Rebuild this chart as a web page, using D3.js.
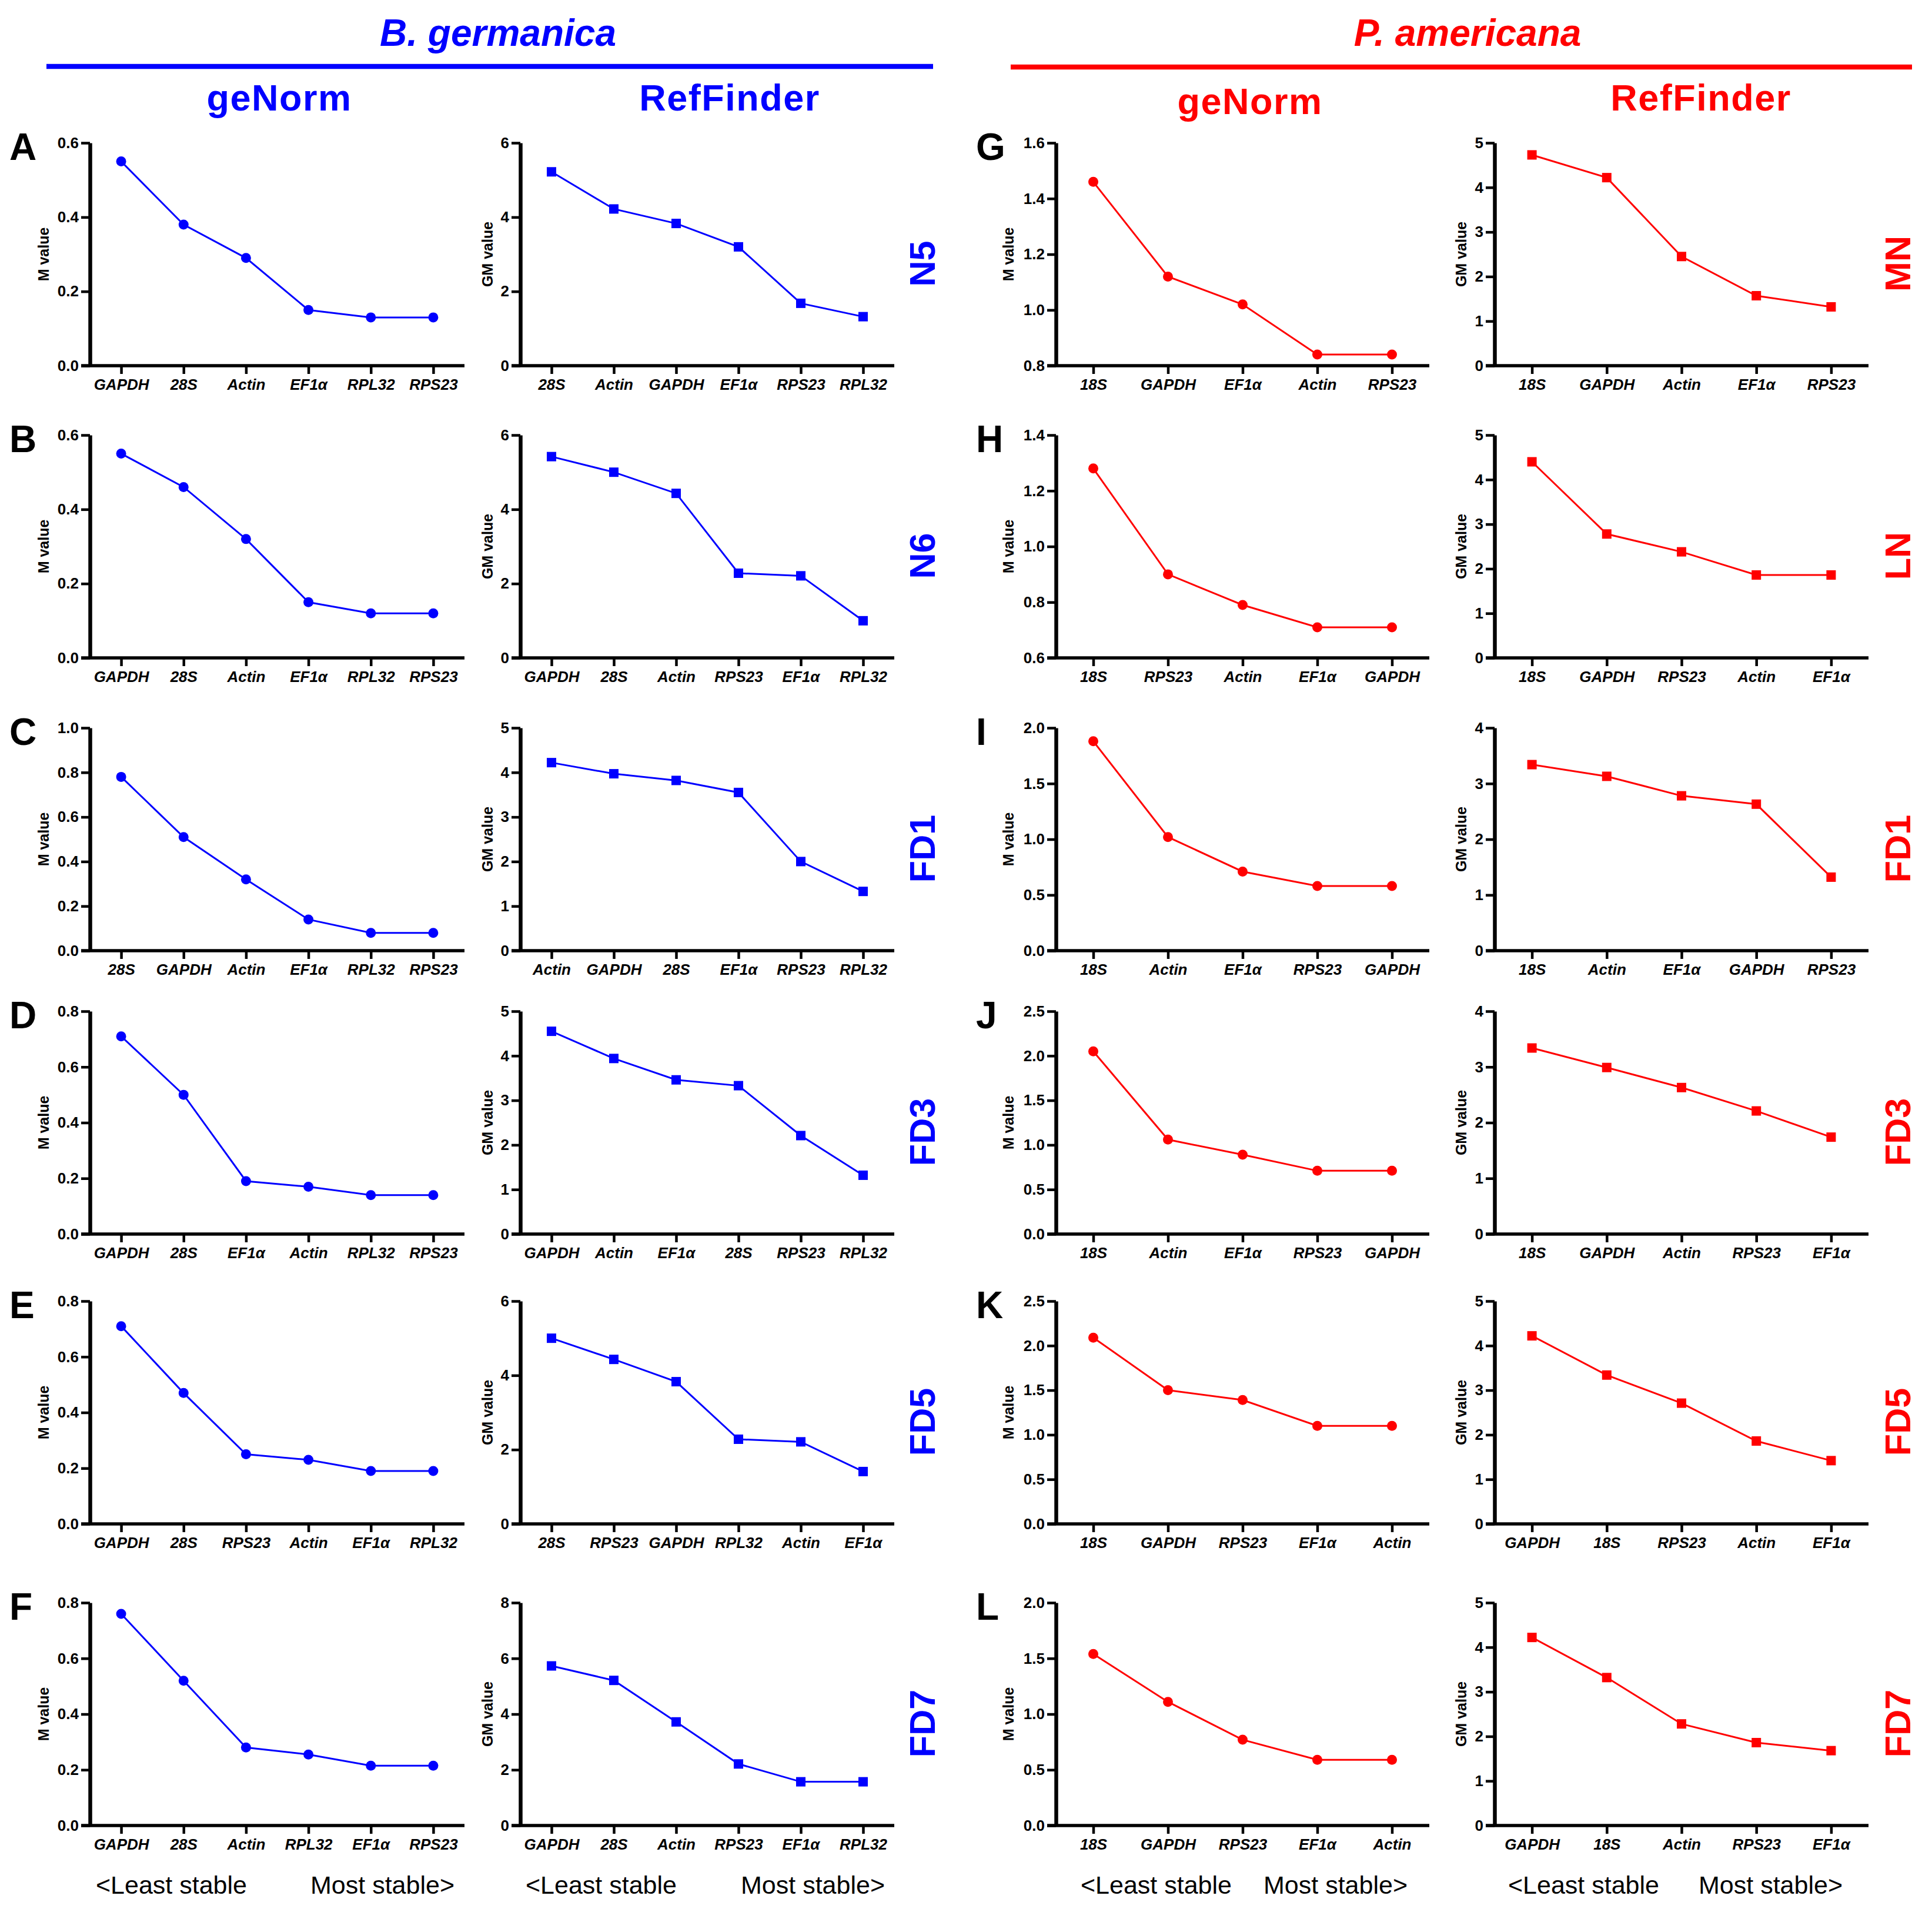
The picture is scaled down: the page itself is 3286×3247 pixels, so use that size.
<!DOCTYPE html>
<html>
<head>
<meta charset="utf-8">
<script src="https://cdn.jsdelivr.net/npm/d3@7"></script>
<style>
  body { margin: 0; background: #fff; }
  text { font-family: "Liberation Sans", Arial, sans-serif; }
</style>
</head>
<body>
<div class="canvas"></div>
<script>
// ---- data ----
// B. germanica, geNorm (M value), rows N5..FD7
const bgGenormGenes = [
  ["GAPDH", "28S", "Actin", "EF1α", "RPL32", "RPS23"],
  ["GAPDH", "28S", "Actin", "EF1α", "RPL32", "RPS23"],
  ["28S", "GAPDH", "Actin", "EF1α", "RPL32", "RPS23"],
  ["GAPDH", "28S", "EF1α", "Actin", "RPL32", "RPS23"],
  ["GAPDH", "28S", "RPS23", "Actin", "EF1α", "RPL32"],
  ["GAPDH", "28S", "Actin", "RPL32", "EF1α", "RPS23"]
];
const bgGenormM = [
  [0.55, 0.38, 0.29, 0.15, 0.13, 0.13],
  [0.55, 0.46, 0.32, 0.15, 0.12, 0.12],
  [0.78, 0.51, 0.32, 0.14, 0.08, 0.08],
  [0.71, 0.50, 0.19, 0.17, 0.14, 0.14],
  [0.71, 0.47, 0.25, 0.23, 0.19, 0.19],
  [0.76, 0.52, 0.28, 0.255, 0.215, 0.215]
];
// B. germanica, RefFinder (GM value)
const bgRefGenes = [
  ["28S", "Actin", "GAPDH", "EF1α", "RPS23", "RPL32"],
  ["GAPDH", "28S", "Actin", "RPS23", "EF1α", "RPL32"],
  ["Actin", "GAPDH", "28S", "EF1α", "RPS23", "RPL32"],
  ["GAPDH", "Actin", "EF1α", "28S", "RPS23", "RPL32"],
  ["28S", "RPS23", "GAPDH", "RPL32", "Actin", "EF1α"],
  ["GAPDH", "28S", "Actin", "RPS23", "EF1α", "RPL32"]
];
const bgRefGM = [
  [5.22, 4.22, 3.83, 3.20, 1.68, 1.32],
  [5.42, 5.00, 4.43, 2.28, 2.21, 1.00],
  [4.22, 3.97, 3.82, 3.55, 2.00, 1.33],
  [4.55, 3.94, 3.46, 3.33, 2.21, 1.32],
  [5.00, 4.43, 3.83, 2.28, 2.21, 1.41],
  [5.73, 5.21, 3.72, 2.21, 1.57, 1.57]
];
// P. americana, geNorm (M value), rows MN..FD7
const paGenormGenes = [
  ["18S", "GAPDH", "EF1α", "Actin", "RPS23"],
  ["18S", "RPS23", "Actin", "EF1α", "GAPDH"],
  ["18S", "Actin", "EF1α", "RPS23", "GAPDH"],
  ["18S", "Actin", "EF1α", "RPS23", "GAPDH"],
  ["18S", "GAPDH", "RPS23", "EF1α", "Actin"],
  ["18S", "GAPDH", "RPS23", "EF1α", "Actin"]
];
const paGenormM = [
  [1.46, 1.12, 1.02, 0.84, 0.84],
  [1.28, 0.90, 0.79, 0.71, 0.71],
  [1.88, 1.02, 0.71, 0.58, 0.58],
  [2.05, 1.06, 0.89, 0.71, 0.71],
  [2.09, 1.50, 1.39, 1.10, 1.10],
  [1.54, 1.11, 0.77, 0.59, 0.59]
];
// P. americana, RefFinder (GM value)
const paRefGenes = [
  ["18S", "GAPDH", "Actin", "EF1α", "RPS23"],
  ["18S", "GAPDH", "RPS23", "Actin", "EF1α"],
  ["18S", "Actin", "EF1α", "GAPDH", "RPS23"],
  ["18S", "GAPDH", "Actin", "RPS23", "EF1α"],
  ["GAPDH", "18S", "RPS23", "Actin", "EF1α"],
  ["GAPDH", "18S", "Actin", "RPS23", "EF1α"]
];
const paRefGM = [
  [4.73, 4.22, 2.45, 1.57, 1.32],
  [4.40, 2.78, 2.38, 1.86, 1.86],
  [3.34, 3.13, 2.78, 2.63, 1.32],
  [3.34, 2.99, 2.63, 2.21, 1.74],
  [4.22, 3.34, 2.71, 1.86, 1.42],
  [4.22, 3.32, 2.28, 1.86, 1.68]
];

// y axis [min, max, tick step] per row
const bgGenormAxis = [[0, 0.6, 0.2], [0, 0.6, 0.2], [0, 1.0, 0.2], [0, 0.8, 0.2], [0, 0.8, 0.2], [0, 0.8, 0.2]];
const bgRefAxis    = [[0, 6, 2], [0, 6, 2], [0, 5, 1], [0, 5, 1], [0, 6, 2], [0, 8, 2]];
const paGenormAxis = [[0.8, 1.6, 0.2], [0.6, 1.4, 0.2], [0, 2.0, 0.5], [0, 2.5, 0.5], [0, 2.5, 0.5], [0, 2.0, 0.5]];
const paRefAxis    = [[0, 5, 1], [0, 5, 1], [0, 4, 1], [0, 4, 1], [0, 5, 1], [0, 5, 1]];

const bgStages = ["N5", "N6", "FD1", "FD3", "FD5", "FD7"];
const paStages = ["MN", "LN", "FD1", "FD3", "FD5", "FD7"];
const bgLetters = ["A", "B", "C", "D", "E", "F"];
const paLetters = ["G", "H", "I", "J", "K", "L"];

// ---- layout ----
const W = 3286, H = 3247;
const BLUE = "#0000ff", RED = "#ff0000";
const rowBottom = [622, 1119, 1617, 2099, 2592, 3105];
const plotH = 379;

const cols = [
  {x0: 153,  x1: 790,  genes: bgGenormGenes, vals: bgGenormM, axis: bgGenormAxis, color: BLUE, marker: "circle", ylab: "M value",  ylabOff: 79, fmt: ".1f", least: 163,  most: 773,  head: "geNorm",    hx: 475,  hy: 188},
  {x0: 885,  x1: 1521, genes: bgRefGenes,    vals: bgRefGM,   axis: bgRefAxis,    color: BLUE, marker: "square", ylab: "GM value", ylabOff: 56, fmt: "d",   least: 894,  most: 1505, head: "RefFinder", hx: 1241, hy: 188},
  {x0: 1796, x1: 2431, genes: paGenormGenes, vals: paGenormM, axis: paGenormAxis, color: RED,  marker: "circle", ylab: "M value",  ylabOff: 81, fmt: ".1f", least: 1838, most: 2394, head: "geNorm",    hx: 2126, hy: 194},
  {x0: 2542, x1: 3178, genes: paRefGenes,    vals: paRefGM,   axis: paRefAxis,    color: RED,  marker: "square", ylab: "GM value", ylabOff: 57, fmt: "d",   least: 2565, most: 3134, head: "RefFinder", hx: 2893, hy: 188}
];

const svg = d3.select(".canvas").append("svg")
  .attr("width", W).attr("height", H)
  .attr("viewBox", `0 0 ${W} ${H}`);

// species titles and rules
const species = [
  {name: "B. germanica", x: 847,  color: BLUE, lx0: 79,   lx1: 1587, ly: 113},
  {name: "P. americana", x: 2496, color: RED,  lx0: 1719, lx1: 3252, ly: 114}
];
species.forEach(s => {
  svg.append("text")
    .attr("x", s.x).attr("y", 78)
    .attr("text-anchor", "middle")
    .attr("font-size", 64).attr("font-weight", "bold").attr("font-style", "italic")
    .attr("fill", s.color)
    .text(s.name);
  svg.append("line")
    .attr("x1", s.lx0).attr("x2", s.lx1)
    .attr("y1", s.ly).attr("y2", s.ly)
    .attr("stroke", s.color).attr("stroke-width", 8.5);
});

// column headers
cols.forEach(c => {
  svg.append("text")
    .attr("x", c.hx).attr("y", c.hy)
    .attr("text-anchor", "middle")
    .attr("font-size", 63).attr("font-weight", "bold")
    .attr("letter-spacing", 1.5)
    .attr("fill", c.color)
    .text(c.head);
});

// panels
cols.forEach(c => {
  c.genes.forEach((genes, ri) => {
    const yb = rowBottom[ri], yt = yb - plotH;
    const [ymin, ymax, ystep] = c.axis[ri];
    const data = genes.map((g, i) => ({gene: g, v: c.vals[ri][i]}));

    const x = d3.scalePoint().domain(genes).range([c.x0, c.x1]).padding(0.5);
    const y = d3.scaleLinear().domain([ymin, ymax]).range([yb, yt]);
    const g = svg.append("g");

    // y axis
    const ticks = d3.range(ymin, ymax + ystep / 2, ystep);
    const ya = g.append("g")
      .attr("transform", `translate(${c.x0},0)`)
      .call(d3.axisLeft(y).tickValues(ticks).tickSize(15).tickSizeOuter(0).tickPadding(4)
        .tickFormat(d3.format(c.fmt)));
    ya.select(".domain").attr("stroke-width", 6.5).attr("stroke", "#000");
    ya.selectAll(".tick line").attr("stroke-width", 4.5).attr("stroke", "#000");
    ya.selectAll(".tick text")
      .attr("font-size", 26).attr("font-weight", "bold")
      .attr("font-family", "Liberation Sans, Arial, sans-serif")
      .attr("fill", "#000");

    // x axis
    const xa = g.append("g")
      .attr("transform", `translate(0,${yb})`)
      .call(d3.axisBottom(x).tickSize(14).tickSizeOuter(0));
    xa.select(".domain").attr("stroke-width", 5.5).attr("stroke", "#000")
      .attr("d", `M${c.x0 - 15},0H${c.x1}`);
    xa.selectAll(".tick line").attr("stroke-width", 4.5).attr("stroke", "#000");
    xa.selectAll(".tick text")
      .attr("y", 41).attr("dy", 0)
      .attr("font-size", 26).attr("font-weight", "bold").attr("font-style", "italic")
      .attr("font-family", "Liberation Sans, Arial, sans-serif")
      .attr("fill", "#000");
    [ya, xa].forEach(a => a.attr("font-size", null).attr("font-family", null));

    // y label
    g.append("text")
      .attr("transform", `translate(${c.x0 - c.ylabOff},${(yt + yb) / 2}) rotate(-90)`)
      .attr("text-anchor", "middle").attr("dy", "0.36em")
      .attr("font-size", 25).attr("font-weight", "bold")
      .text(c.ylab);

    // line + markers
    g.append("path")
      .datum(data)
      .attr("fill", "none").attr("stroke", c.color).attr("stroke-width", 3)
      .attr("d", d3.line().x(d => x(d.gene)).y(d => y(d.v)));

    if (c.marker === "circle") {
      g.selectAll("circle").data(data).join("circle")
        .attr("cx", d => x(d.gene)).attr("cy", d => y(d.v))
        .attr("r", 8.5).attr("fill", c.color);
    } else {
      const s = 16;
      g.selectAll("rect").data(data).join("rect")
        .attr("x", d => x(d.gene) - s / 2).attr("y", d => y(d.v) - s / 2)
        .attr("width", s).attr("height", s).attr("fill", c.color);
    }
  });

  // bottom captions
  svg.append("text").attr("x", c.least).attr("y", 3221)
    .attr("font-size", 43).attr("text-anchor", "start").text("<Least stable");
  svg.append("text").attr("x", c.most).attr("y", 3221)
    .attr("font-size", 43).attr("text-anchor", "end").text("Most stable>");
});

// panel letters and stage labels
const sides = [
  {letters: bgLetters, stages: bgStages, lx: 16,   sx: 1568, color: BLUE},
  {letters: paLetters, stages: paStages, lx: 1660, sx: 3227, color: RED}
];
sides.forEach(sd => {
  rowBottom.forEach((yb, ri) => {
    const yt = yb - plotH;
    svg.append("text")
      .attr("x", sd.lx).attr("y", yt + 29)
      .attr("font-size", 64).attr("font-weight", "bold")
      .text(sd.letters[ri]);
    svg.append("text")
      .attr("transform", `translate(${sd.sx},${(yt + yb) / 2 + 16}) rotate(-90)`)
      .attr("text-anchor", "middle").attr("dy", "0.36em")
      .attr("font-size", 61).attr("font-weight", "bold")
      .attr("fill", sd.color)
      .text(sd.stages[ri]);
  });
});
</script>
</body>
</html>
